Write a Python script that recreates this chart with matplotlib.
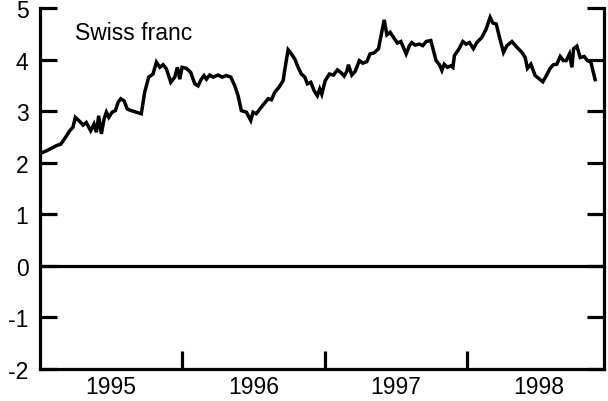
import matplotlib
matplotlib.use("Agg")
import matplotlib.pyplot as plt

# === Data (decimal year, percent) ===
dates = [
    1995.013, 1995.048, 1995.083, 1995.118, 1995.149, 1995.177, 1995.212, 1995.235,
    1995.251, 1995.282, 1995.305, 1995.328, 1995.359, 1995.382, 1995.399, 1995.415,
    1995.434, 1995.453, 1995.469, 1995.486, 1995.509, 1995.532, 1995.551, 1995.570,
    1995.593, 1995.616, 1995.644, 1995.679, 1995.714, 1995.738, 1995.766, 1995.796,
    1995.820, 1995.844, 1995.867, 1995.890, 1995.921, 1995.949, 1995.967, 1995.984,
    1996.000, 1996.030, 1996.061, 1996.089, 1996.112, 1996.135, 1996.154, 1996.171,
    1996.194, 1996.218, 1996.253, 1996.281, 1996.311, 1996.342, 1996.370, 1996.393,
    1996.416, 1996.451, 1996.482, 1996.498, 1996.521, 1996.545, 1996.575, 1996.604,
    1996.627, 1996.651, 1996.679, 1996.709, 1996.725, 1996.744, 1996.767, 1996.791,
    1996.814, 1996.837, 1996.861, 1996.879, 1996.903, 1996.926, 1996.949, 1996.966,
    1996.980, 1997.004, 1997.034, 1997.062, 1997.090, 1997.114, 1997.137, 1997.156,
    1997.167, 1997.191, 1997.214, 1997.244, 1997.268, 1997.296, 1997.319, 1997.347,
    1997.378, 1997.401, 1997.418, 1997.437, 1997.460, 1997.488, 1997.511, 1997.535,
    1997.572, 1997.595, 1997.612, 1997.635, 1997.665, 1997.689, 1997.712, 1997.745,
    1997.764, 1997.782, 1997.806, 1997.823, 1997.839, 1997.862, 1997.886, 1997.900,
    1997.911, 1997.939, 1997.970, 1997.993, 1998.016, 1998.044, 1998.068, 1998.103,
    1998.133, 1998.161, 1998.180, 1998.204, 1998.227, 1998.255, 1998.279, 1998.314,
    1998.349, 1998.384, 1998.407, 1998.423, 1998.447, 1998.477, 1998.500, 1998.531,
    1998.554, 1998.582, 1998.605, 1998.629, 1998.653, 1998.675, 1998.695, 1998.718,
    1998.735, 1998.747, 1998.770, 1998.793, 1998.821, 1998.844, 1998.868, 1998.898,
]
values = [
    2.19, 2.23, 2.28, 2.33, 2.36, 2.47, 2.62, 2.69,
    2.88, 2.80, 2.73, 2.78, 2.62, 2.75, 2.59, 2.91,
    2.56, 2.85, 2.98, 2.88, 2.98, 3.01, 3.17, 3.24,
    3.20, 3.04, 3.01, 2.98, 2.95, 3.37, 3.66, 3.72,
    3.95, 3.85, 3.90, 3.82, 3.56, 3.66, 3.85, 3.62,
    3.85, 3.83, 3.75, 3.53, 3.49, 3.62, 3.69, 3.62,
    3.70, 3.66, 3.70, 3.66, 3.69, 3.66, 3.49, 3.30,
    3.01, 2.98, 2.82, 2.98, 2.95, 3.04, 3.14, 3.24,
    3.22, 3.37, 3.46, 3.59, 3.88, 4.19, 4.11, 4.01,
    3.85, 3.72, 3.66, 3.53, 3.56, 3.40, 3.30, 3.43,
    3.33, 3.59, 3.72, 3.70, 3.80, 3.75, 3.68, 3.77,
    3.90, 3.70, 3.77, 3.98, 3.93, 3.96, 4.11, 4.13,
    4.21, 4.53, 4.77, 4.48, 4.53, 4.41, 4.32, 4.35,
    4.11, 4.27, 4.33, 4.28, 4.30, 4.27, 4.35, 4.37,
    4.17, 3.98, 3.90, 3.79, 3.91, 3.85, 3.88, 3.85,
    4.08, 4.19, 4.35, 4.30, 4.33, 4.21, 4.33, 4.43,
    4.59, 4.82, 4.71, 4.69, 4.43, 4.14, 4.27, 4.35,
    4.24, 4.14, 4.04, 3.83, 3.91, 3.69, 3.64, 3.57,
    3.68, 3.83, 3.90, 3.91, 4.06, 3.98, 3.98, 4.11,
    3.85, 4.21, 4.26, 4.04, 4.06, 3.98, 3.95, 3.61,
]
year_labels = ["1995", "1996", "1997", "1998"]
year_bounds = [1996, 1997, 1998]
y_ticks = [-2, -1, 0, 1, 2, 3, 4, 5]
label = "Swiss franc"

plt.rcParams["font.family"] = ["Liberation Sans", "DejaVu Sans"]

fig = plt.figure(figsize=(6.08, 4.02), dpi=100)
ax = fig.add_axes([0.065, 0.0796, 0.9284, 0.898])

ax.plot(dates, values, color="black", linewidth=2.5, solid_joinstyle="miter")
ax.axhline(0, color="black", linewidth=2.3)

ax.set_xlim(1995.0, 1998.96)
ax.set_ylim(-2, 5)

# x axis: ticks at year boundaries, labels centred mid-year
ax.set_xticks(year_bounds)
ax.set_xticklabels([])
ax.set_xticks([y + 0.5 for y in range(1995, 1999)], minor=True)
ax.set_xticklabels(year_labels, minor=True)
ax.tick_params(axis="x", which="major", direction="in", length=13, width=2.3)
ax.tick_params(axis="x", which="minor", length=0, pad=4, labelsize=16.5)

# y axis: inward ticks both sides, longer one at the top
ax.set_yticks(y_ticks)
ax.set_yticklabels([str(t) for t in y_ticks])
ax.set_yticks([5], minor=True)
ax.tick_params(axis="y", which="major", direction="in", length=12.5, width=2.3,
               left=True, right=True, pad=8, labelsize=16.5)
ax.tick_params(axis="y", which="minor", direction="in", length=26, width=2.3,
               left=True, right=True)

for side in ["left", "right", "bottom"]:
    ax.spines[side].set_linewidth(2.3)
ax.spines["top"].set_visible(False)

ax.text(1995.25, 4.53, label, fontsize=16.5, ha="left", va="center")

fig.savefig("out.png", dpi=100)
